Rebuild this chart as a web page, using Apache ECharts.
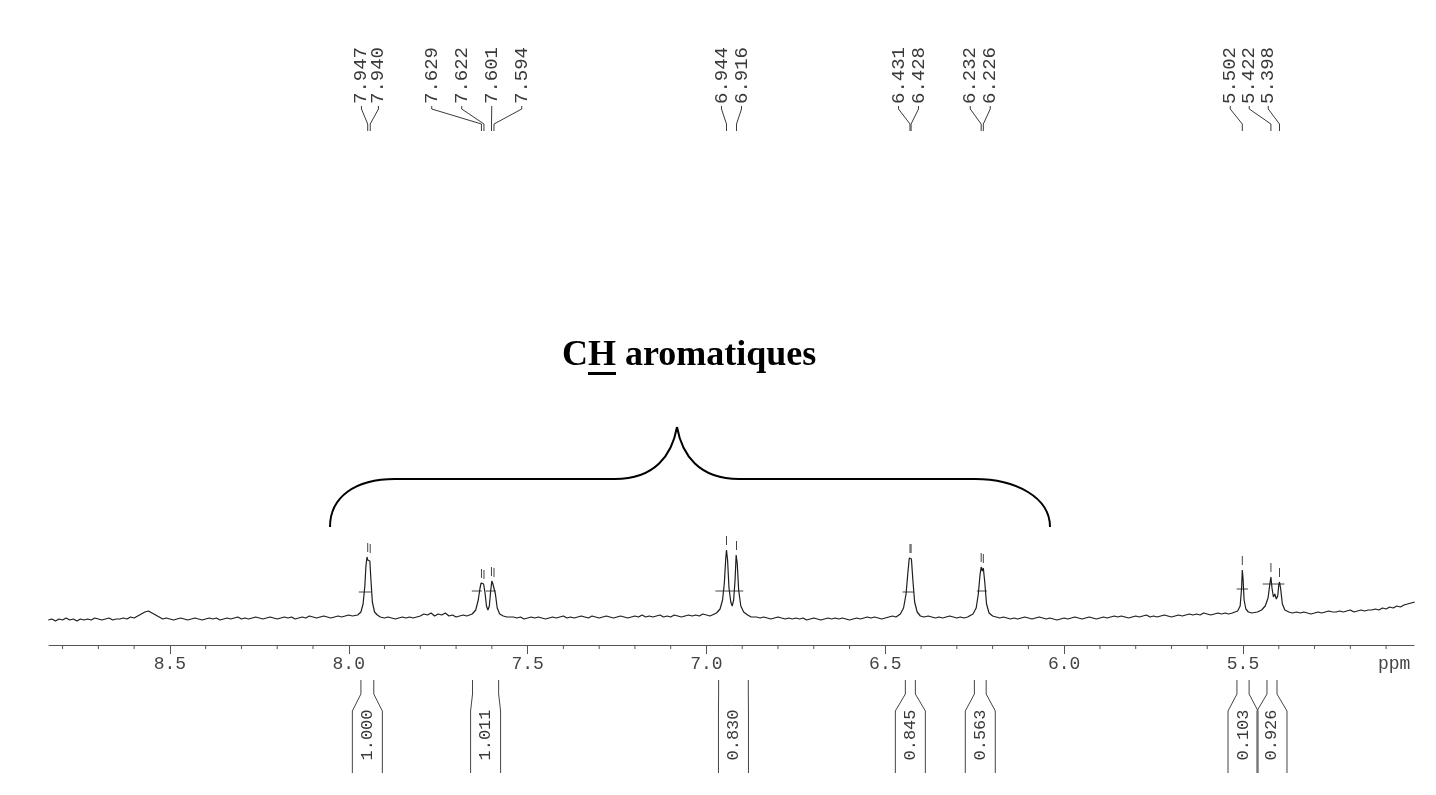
<!DOCTYPE html>
<html>
<head>
<meta charset="utf-8">
<title>RMN 1H - CH aromatiques</title>
<script src="https://cdn.jsdelivr.net/npm/echarts@6/dist/echarts.min.js"></script>
<style>
  html,body{margin:0;padding:0;background:#fff;}
  #main{width:1436px;height:795px;}
</style>
</head>
<body>
<div id="main"></div>
<script>
// axe ppm
var ppmMin = 5.022, ppmMax = 8.838;
var majorTicks = [8.5, 8.0, 7.5, 7.0, 6.5, 6.0, 5.5];
var minorTicks = [8.8, 8.7, 8.6, 8.4, 8.3, 8.2, 8.1, 7.9, 7.8, 7.7, 7.6, 7.4, 7.3, 7.2, 7.1,
                  6.9, 6.8, 6.7, 6.6, 6.4, 6.3, 6.2, 6.1, 5.9, 5.8, 5.7, 5.6, 5.4, 5.3, 5.2, 5.1];

// ligne de base lue tous les 0.01 ppm depuis 8.84
var baseStart = 8.84, baseStep = 0.01;
var baseline = [
  -2,-1,-3,-1,-2, 0,-2,-1,-3,-1,   // 8.84
  -2,-1,-2, 0,-1,-2,-1, 0,-2,-1,   // 8.74
  -1, 0,-1, 1, 0, 2, 4, 6, 7, 5,   // 8.64
   3, 1,-1, 0,-1,-2,-1, 0,-1,-2,   // 8.54
  -1, 0,-1,-2,-1, 0,-1, 0,-2,-1,   // 8.44
   0,-1, 0, 1,-1, 0,-1, 0, 1, 0,   // 8.34
  -1, 0, 1, 0,-1, 0, 1, 0, 1,-1,   // 8.24
   0, 1, 0, 2, 1, 0, 1, 2, 1, 0,   // 8.14
   1, 2, 1, 2, 3, 2, 3, 4, 5, 8,   // 8.04
   9, 5, 3, 1, 0, 1, 0,-1, 0, 1,   // 7.94
   0, 1, 0, 1, 2, 4, 3, 5, 2, 4,   // 7.84
   3, 5, 2, 3, 1, 2, 3, 2, 3, 4,   // 7.74
   5, 5, 5, 5, 5, 5, 5, 5, 3, 1,   // 7.64
   1, 0, 1,-1, 0, 1, 0, 1, 0,-1,   // 7.54
   0, 1, 0, 1, 2, 0, 1, 0, 1, 2,   // 7.44
   1, 0, 2, 1, 0, 1, 2, 1, 0, 1,   // 7.34
   2, 1, 0, 1, 2, 1, 3, 1, 2, 1,   // 7.24
   2, 3, 1, 2, 1, 3, 2, 1, 2, 3,   // 7.14
   2, 3, 2, 4, 3, 2, 3, 3, 5, 9,   // 7.04
  20,20,10, 5, 3, 2, 1, 2, 1, 0,   // 6.94
   1, 0,-1, 0, 1, 0,-1, 0,-1, 0,   // 6.84
  -1, 0,-2,-1, 0,-1,-2,-1, 0,-1,   // 6.74
   0,-1, 0,-1,-2,-1, 0,-1, 0, 1,   // 6.64
   0, 1, 0,-1, 0, 1, 2, 3, 5,10,   // 6.54
  20,30,20, 8, 3, 1, 2, 1, 0, 1,   // 6.44
   0, 1, 2, 1, 0, 1, 0, 1, 2, 3,   // 6.34
  10,40,20, 5, 2, 1, 0, 1, 0,-1,   // 6.24
   0,-1, 0, 1, 0,-1, 0, 1, 0,-1,   // 6.14
   0,-1,-2,-1, 0,-1, 0, 1, 0,-1,   // 6.04
   0, 1, 0,-1, 0, 1, 0, 1, 2, 1,   // 5.94
   2, 1, 0, 1, 2, 1, 2, 3, 1, 2,   // 5.84
   1, 2, 3, 2, 1, 2, 3, 2, 3, 4,   // 5.74
   3, 4, 3, 5, 4, 3, 4, 5, 4, 5,   // 5.64
   4, 5, 6, 8,30, 8, 6, 5, 6, 7,   // 5.54
   8,15,35,25,30,15, 8, 6, 5, 6,   // 5.44
   5, 6, 5, 4, 5, 6, 5, 6, 7, 6,   // 5.34
   6, 7, 6, 7, 8, 6, 7, 8, 7, 8,   // 5.24
   8, 9, 8,10, 9,11,10,12,11,13,   // 5.14
  14,15,16                         // 5.04
];

// massifs [ppm, intensité]
var peak794 = [[7.985,2],[7.975,3],[7.966,6],[7.960,14],[7.955,32],[7.952,52],[7.949,61],[7.947,58],
  [7.944,60],[7.941,57],[7.938,38],[7.934,16],[7.928,6],[7.920,3],[7.912,1]];
var peak761 = [[7.670,2],[7.655,4],[7.645,8],[7.638,18],[7.633,30],[7.630,35],[7.627,33],[7.623,34],
  [7.619,25],[7.615,12],[7.611,8],[7.607,12],[7.603,28],[7.600,37],[7.597,34],[7.594,36],[7.590,24],
  [7.585,10],[7.578,4],[7.568,2],[7.558,1]];
var peak693 = [[6.985,3],[6.972,5],[6.962,9],[6.955,18],[6.950,35],[6.946,60],[6.944,68],[6.941,58],
  [6.937,30],[6.932,16],[6.928,12],[6.924,18],[6.920,38],[6.917,63],[6.914,55],[6.910,28],[6.904,12],
  [6.896,6],[6.885,3],[6.875,1]];
var peak643 = [[6.470,1],[6.458,4],[6.449,10],[6.442,24],[6.437,45],[6.433,60],[6.430,58],[6.427,59],
  [6.423,38],[6.418,16],[6.411,6],[6.402,2],[6.392,1]];
var peak623 = [[6.265,1],[6.255,4],[6.246,10],[6.240,24],[6.235,44],[6.232,51],[6.229,47],[6.226,50],
  [6.222,36],[6.217,14],[6.210,5],[6.200,2],[6.190,1]];
var peak550 = [[5.530,5],[5.515,7],[5.508,12],[5.504,30],[5.502,48],[5.500,40],[5.497,18],[5.492,9],
  [5.485,6],[5.475,5]];
var peak541 = [[5.460,6],[5.448,8],[5.438,12],[5.430,20],[5.425,34],[5.422,41],[5.419,30],[5.415,21],
  [5.411,24],[5.407,19],[5.403,22],[5.400,33],[5.398,36],[5.395,30],[5.390,14],[5.383,8],[5.372,6],
  [5.362,5]];

// déplacements chimiques affichés
var labelGroups = [[7.947, 7.940], [7.629, 7.622, 7.601, 7.594], [6.944, 6.916],
                   [6.431, 6.428], [6.232, 6.226], [5.502, 5.422, 5.398]];
var labelStep = [17, 30, 20, 20, 20, 19];
var labelShift = [1, -11, 0, -2, -2, -15];

// intégrales
var intFrom = [7.966, 7.654, 6.966, 6.444, 6.251, 5.517, 5.433];
var intTo   = [7.930, 7.581, 6.883, 6.416, 6.218, 5.483, 5.405];
var intValues = ['1.000', '1.011', '0.830', '0.845', '0.563', '0.103', '0.926'];

// petits traits d'intégration sur les pics
var barFrom  = [7.972, 7.656, 7.617, 6.975, 6.452, 6.244, 5.518, 5.445];
var barTo    = [7.938, 7.628, 7.589, 6.897, 6.420, 6.216, 5.486, 5.384];
var barLevel = [26, 27, 27, 27, 26, 27, 29, 34];

var peaks = [peak794, peak761, peak693, peak643, peak623, peak550, peak541];
var spectrum = [];
baseline.forEach(function (v, i) {
  var p = +(baseStart - i * baseStep).toFixed(3);
  var inPeak = peaks.some(function (pk) { return p <= pk[0][0] && p >= pk[pk.length - 1][0]; });
  if (!inPeak) spectrum.push([p, v]);
});
peaks.forEach(function (pk) { pk.forEach(function (pt) { spectrum.push(pt); }); });
spectrum.sort(function (a, b) { return b[0] - a[0]; });

function topNear(ppm) {
  var m = 0;
  spectrum.forEach(function (pt) { if (Math.abs(pt[0] - ppm) <= 0.005 && pt[1] > m) m = pt[1]; });
  return m;
}

var ink = '#3a3a3a';
var monoFont = '"Liberation Mono", "DejaVu Sans Mono", monospace';
var brace = {stroke: '#000', lineWidth: 2, fill: null};

var chart = echarts.init(document.getElementById('main'), null, {renderer: 'canvas'});
var option = {
  backgroundColor: '#ffffff',
  animation: false,
  grid: {left: 49, right: 22, top: 0, bottom: 150},
  xAxis: {
    type: 'value', min: ppmMin, max: ppmMax, inverse: true,
    splitLine: {show: false},
    axisLine: {onZero: false, lineStyle: {color: '#555', width: 1}},
    axisTick: {customValues: majorTicks, length: 9, lineStyle: {color: '#555'}},
    axisLabel: {
      customValues: majorTicks, margin: 10, color: '#444',
      fontFamily: '"Liberation Mono", monospace', fontSize: 18,
      formatter: function (v) { return v.toFixed(1); }
    }
  },
  yAxis: {type: 'value', min: -27, max: 618, show: false},
  series: [
    {
      type: 'line', data: spectrum, showSymbol: false, z: 3,
      lineStyle: {color: '#1e1e1e', width: 1.2}
    },
    {
      // graduations secondaires
      type: 'custom', clip: false, silent: true,
      data: minorTicks.map(function (t) { return [t, -27]; }),
      renderItem: function (params, api) {
        var p = api.coord([api.value(0), -27]);
        return {type: 'line', shape: {x1: p[0], y1: p[1], x2: p[0], y2: p[1] + 4},
                style: {stroke: '#555', lineWidth: 1}};
      }
    },
    {
      // traits d'intégration
      type: 'custom', clip: false, silent: true,
      data: barFrom.map(function (f, i) { return [f, barLevel[i]]; }),
      renderItem: function (params, api) {
        var i = params.dataIndex;
        var a = api.coord([barFrom[i], barLevel[i]]);
        var b = api.coord([barTo[i], barLevel[i]]);
        return {type: 'line', shape: {x1: a[0], y1: a[1], x2: b[0], y2: b[1]},
                style: {stroke: '#444', lineWidth: 1}};
      }
    },
    {
      // étiquettes des pics
      type: 'custom', clip: false, silent: true,
      data: labelGroups.map(function (g) { return [g[0], 0]; }),
      renderItem: function (params, api) {
        var gi = params.dataIndex;
        var grp = labelGroups[gi];
        var xs = grp.map(function (v) { return api.coord([v, 0])[0]; });
        var cx = xs.reduce(function (s, x) { return s + x; }, 0) / xs.length + labelShift[gi];
        var children = [];
        grp.forEach(function (v, k) {
          var lx = cx + (k - (grp.length - 1) / 2) * labelStep[gi];
          children.push({type: 'text', x: lx, y: 104, rotation: Math.PI / 2,
            style: {text: v.toFixed(3), align: 'left', verticalAlign: 'middle',
                    font: '19px ' + monoFont, fill: ink}});
          children.push({type: 'polyline',
            shape: {points: [[lx, 106], [lx, 109], [xs[k], 124], [xs[k], 131]]},
            style: {stroke: ink, lineWidth: 1, fill: null}});
          var top = api.coord([v, topNear(v)]);
          children.push({type: 'line', shape: {x1: top[0], y1: top[1] - 5, x2: top[0], y2: top[1] - 14},
            style: {stroke: '#444', lineWidth: 1}});
        });
        return {type: 'group', children: children};
      }
    },
    {
      // intégrales sous l'axe
      type: 'custom', clip: false, silent: true,
      data: intFrom.map(function (f) { return [f, 0]; }),
      renderItem: function (params, api) {
        var i = params.dataIndex;
        var x1 = api.coord([intFrom[i], 0])[0];
        var x2 = api.coord([intTo[i], 0])[0];
        var cx = (x1 + x2) / 2;
        var w = Math.max(x2 - x1, 30);
        var b1 = cx - w / 2, b2 = cx + w / 2;
        var st = {stroke: '#444', lineWidth: 1, fill: null};
        return {type: 'group', children: [
          {type: 'polyline', shape: {points: [[x1, 680], [x1, 694], [b1, 711], [b1, 773]]}, style: st},
          {type: 'polyline', shape: {points: [[x2, 680], [x2, 694], [b2, 711], [b2, 773]]}, style: st},
          {type: 'text', x: cx, y: 735, rotation: Math.PI / 2,
            style: {text: intValues[i], align: 'center', verticalAlign: 'middle',
                    font: '17px ' + monoFont, fill: ink}}
        ]};
      }
    }
  ],
  graphic: [
    {type: 'text', x: 1378, y: 664, style: {text: 'ppm', font: '18px "Liberation Mono", monospace', fill: '#444',
      verticalAlign: 'middle'}},
    {type: 'text', x: 562, y: 356, style: {text: 'CH aromatiques', font: 'bold 36px "Liberation Serif", serif',
      fill: '#000', verticalAlign: 'middle', align: 'left'}},
    {type: 'rect', shape: {x: 588, y: 372, width: 28, height: 3}, style: {fill: '#000'}},
    {type: 'bezierCurve', shape: {x1: 330, y1: 527, cpx1: 330, cpy1: 497, cpx2: 355, cpy2: 479, x2: 395, y2: 479}, style: brace},
    {type: 'line', shape: {x1: 395, y1: 479, x2: 615, y2: 479}, style: brace},
    {type: 'bezierCurve', shape: {x1: 615, y1: 479, cpx1: 655, cpy1: 479, cpx2: 672, cpy2: 455, x2: 677, y2: 427}, style: brace},
    {type: 'bezierCurve', shape: {x1: 677, y1: 427, cpx1: 682, cpy1: 455, cpx2: 699, cpy2: 479, x2: 739, y2: 479}, style: brace},
    {type: 'line', shape: {x1: 739, y1: 479, x2: 975, y2: 479}, style: brace},
    {type: 'bezierCurve', shape: {x1: 975, y1: 479, cpx1: 1015, cpy1: 479, cpx2: 1050, cpy2: 497, x2: 1050, y2: 527}, style: brace}
  ]
};
chart.setOption(option);
</script>
</body>
</html>
